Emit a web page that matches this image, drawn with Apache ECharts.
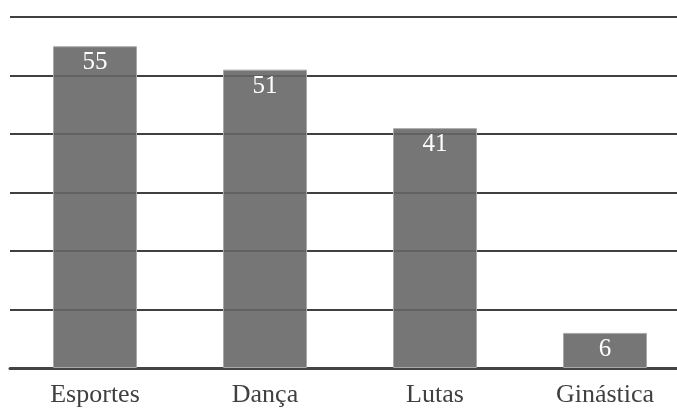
<!DOCTYPE html>
<html>
<head>
<meta charset="utf-8">
<script src="https://cdn.jsdelivr.net/npm/echarts@6/dist/echarts.min.js"></script>
<style>
  html, body { margin: 0; padding: 0; background: #fff; overflow: hidden; }
  #chart { width: 690px; height: 408px; }
</style>
</head>
<body>
<div id="chart"></div>
<script>
// Activity categories and participant counts
const categories = ['Esportes', 'Dança', 'Lutas', 'Ginástica'];
const values = [55, 51, 41, 6];
const yMin = 0;
const yMax = 60;
const yStep = 10;

const serif = 'Liberation Serif, Times New Roman, DejaVu Serif, serif';

const chart = echarts.init(document.getElementById('chart'), null, { renderer: 'canvas' });
chart.setOption({
  animation: false,
  backgroundColor: '#ffffff',
  textStyle: { fontFamily: serif },
  grid: { left: 10, top: 17, right: 0, bottom: 39, containLabel: false },
  xAxis: {
    type: 'category',
    data: categories,
    axisLine: { show: true, lineStyle: { color: '#444444', width: 3 } },
    axisTick: { show: false },
    axisLabel: {
      color: '#404040',
      fontFamily: serif,
      fontSize: 26,
      margin: 14
    }
  },
  yAxis: {
    type: 'value',
    min: yMin,
    max: yMax,
    interval: yStep,
    axisLine: { show: false },
    axisTick: { show: false },
    axisLabel: { show: false },
    splitLine: { show: true, lineStyle: { color: '#000000', width: 1.5 } }
  },
  series: [{
    type: 'bar',
    data: values,
    barWidth: 84,
    itemStyle: {
      color: 'rgba(101,101,101,0.89)',
      borderColor: '#a8a8a8',
      borderWidth: 1
    },
    label: {
      show: true,
      position: 'insideTop',
      distance: 4,
      color: '#ffffff',
      fontFamily: serif,
      fontSize: 25
    }
  }]
});
</script>
</body>
</html>
